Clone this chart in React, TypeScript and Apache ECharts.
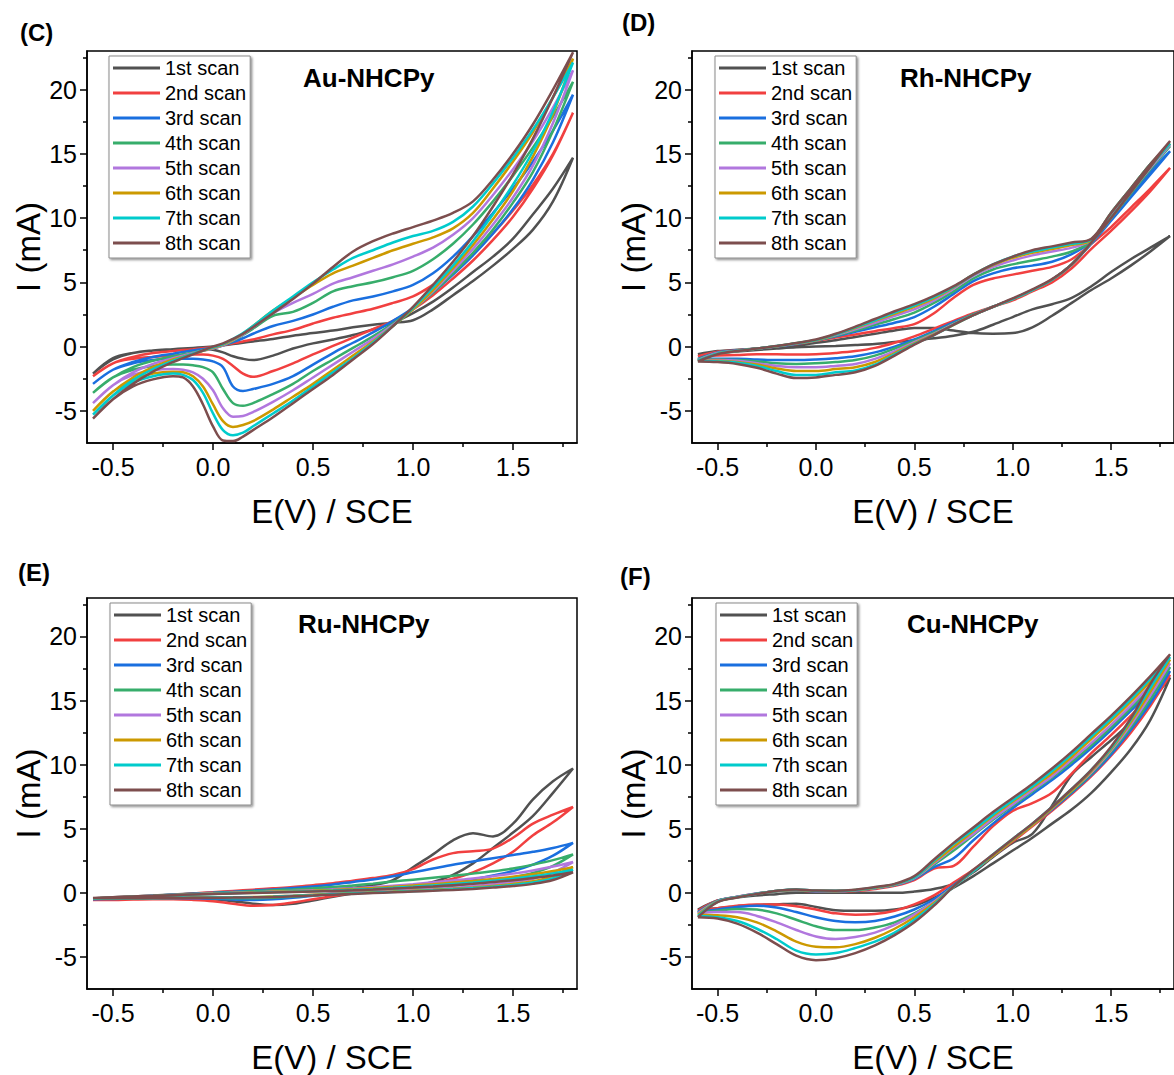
import React, { useEffect, useRef } from "react";
import * as echarts from "echarts";

const FONT = "'Liberation Sans', Arial, Helvetica, sans-serif";

const SCANS = ["1st scan", "2nd scan", "3rd scan", "4th scan", "5th scan", "6th scan", "7th scan", "8th scan"];
const COLORS = ["#515151", "#F14040", "#1A6FDF", "#37AD6B", "#B177DE", "#CC9900", "#00CBCC", "#7D4E4E"];

const X_TICKS = [-0.5, 0, 0.5, 1, 1.5];
const X_MINOR = [-0.25, 0.25, 0.75, 1.25, 1.75];
const Y_TICKS = [-5, 0, 5, 10, 15, 20];
const Y_MINOR = [-2.5, 2.5, 7.5, 12.5, 17.5, 22.5];

const PANEL_LABELS = ["(C)", "(D)", "(E)", "(F)"];
const PANEL_NAMES = ["Au-NHCPy", "Rh-NHCPy", "Ru-NHCPy", "Cu-NHCPy"];

// ---------- Au-NHCPy (C) ----------
const AU_E = [-0.6, -0.5, -0.4, -0.3, -0.2, -0.15, -0.1, -0.05, 0, 0.05, 0.1, 0.15, 0.2, 0.3, 0.4, 0.5, 0.6, 0.7, 0.8, 0.9, 1.0, 1.1, 1.2, 1.3, 1.4, 1.5, 1.6, 1.7, 1.8];
const AU_FWD = [
  [-2.1, -1.0, -0.5, -0.3, -0.2, -0.15, -0.1, -0.05, 0.0, 0.1, 0.2, 0.3, 0.4, 0.6, 0.85, 1.05, 1.25, 1.5, 1.7, 1.85, 2.05, 2.9, 4.0, 5.1, 6.3, 7.6, 9.1, 11.3, 14.7],
  [-2.3, -1.3, -0.8, -0.5, -0.35, -0.27, -0.2, -0.12, -0.05, 0.1, 0.25, 0.4, 0.55, 0.95, 1.3, 1.8, 2.25, 2.6, 2.95, 3.4, 3.9, 4.8, 5.9, 7.2, 8.8, 10.6, 12.6, 15.0, 18.2],
  [-2.9, -1.8, -1.2, -0.8, -0.55, -0.42, -0.3, -0.2, -0.1, 0.1, 0.35, 0.65, 1.0, 1.6, 2.0, 2.5, 3.1, 3.6, 3.9, 4.3, 4.8, 5.7, 7.0, 8.6, 10.4, 12.3, 14.4, 16.8, 19.6],
  [-3.6, -2.4, -1.6, -1.1, -0.75, -0.6, -0.45, -0.3, -0.15, 0.1, 0.45, 0.9, 1.4, 2.4, 2.7, 3.4, 4.3, 4.7, 5.0, 5.4, 5.9, 6.8, 8.0, 9.5, 11.3, 13.3, 15.5, 17.9, 20.6],
  [-4.4, -3.0, -2.0, -1.35, -0.9, -0.7, -0.5, -0.32, -0.15, 0.1, 0.5, 0.95, 1.5, 2.6, 3.4, 4.1, 4.9, 5.4, 5.9, 6.4, 7.0, 7.7, 8.7, 10.0, 11.8, 13.8, 16.0, 18.6, 21.5],
  [-5.0, -3.5, -2.4, -1.6, -1.0, -0.78, -0.55, -0.32, -0.1, 0.15, 0.55, 1.0, 1.6, 2.8, 3.8, 4.8, 5.7, 6.3, 6.9, 7.5, 8.0, 8.5, 9.2, 10.4, 12.3, 14.4, 16.7, 19.4, 22.4],
  [-5.3, -3.8, -2.6, -1.75, -1.1, -0.82, -0.55, -0.3, -0.05, 0.2, 0.6, 1.05, 1.6, 2.8, 3.9, 5.0, 6.0, 6.9, 7.5, 8.1, 8.6, 9.0, 9.7, 10.9, 12.7, 14.7, 16.9, 19.4, 22.1],
  [-5.6, -4.1, -2.9, -1.95, -1.2, -0.9, -0.6, -0.3, 0.0, 0.25, 0.6, 1.0, 1.5, 2.6, 3.7, 4.9, 6.2, 7.4, 8.2, 8.8, 9.3, 9.8, 10.4, 11.3, 13.0, 15.0, 17.3, 20.0, 22.9],
];
const AU_REV = [
  [-2.1, -0.9, -0.5, -0.3, -0.25, -0.22, -0.2, -0.2, -0.25, -0.45, -0.75, -0.95, -1.05, -0.7, -0.15, 0.25, 0.55, 0.9, 1.35, 1.85, 2.6, 3.5, 4.6, 5.8, 7.0, 8.4, 10.3, 12.3, 14.7],
  [-2.3, -1.3, -0.95, -0.8, -0.7, -0.65, -0.62, -0.62, -0.7, -0.95, -1.5, -2.1, -2.35, -1.9, -1.3, -0.6, 0.05, 0.7, 1.35, 2.0, 2.9, 4.0, 5.3, 6.7, 8.3, 10.1, 12.3, 14.9, 18.2],
  [-2.9, -1.8, -1.3, -1.05, -0.95, -0.95, -0.95, -1.0, -1.15, -1.6, -3.1, -3.45, -3.3, -2.9, -2.3, -1.4, -0.5, 0.3, 1.1, 2.0, 3.0, 4.2, 5.6, 7.1, 8.8, 10.7, 13.0, 15.9, 19.6],
  [-3.6, -2.4, -1.8, -1.5, -1.4, -1.4, -1.45, -1.6, -2.0, -3.3, -4.4, -4.6, -4.4, -3.7, -2.9, -1.9, -1.0, -0.1, 0.8, 1.8, 2.9, 4.2, 5.7, 7.3, 9.1, 11.2, 13.6, 16.8, 20.6],
  [-4.4, -3.0, -2.2, -1.85, -1.75, -1.8, -2.0, -2.5, -3.4, -4.8, -5.45, -5.4, -5.1, -4.3, -3.4, -2.4, -1.4, -0.4, 0.6, 1.7, 2.9, 4.3, 5.9, 7.6, 9.5, 11.6, 14.1, 17.4, 21.5],
  [-5.0, -3.5, -2.6, -2.1, -1.95, -2.0, -2.3, -3.1, -4.5, -5.8, -6.25, -6.1, -5.8, -4.9, -3.9, -2.9, -1.8, -0.7, 0.4, 1.6, 2.9, 4.4, 6.1, 7.9, 9.9, 12.1, 14.8, 18.1, 22.4],
  [-5.3, -3.8, -2.8, -2.3, -2.1, -2.2, -2.6, -3.6, -5.2, -6.5, -6.9, -6.7, -6.2, -5.2, -4.2, -3.1, -2.0, -0.9, 0.3, 1.6, 3.0, 4.6, 6.3, 8.2, 10.3, 12.6, 15.2, 18.3, 22.1],
  [-5.6, -4.1, -3.1, -2.55, -2.3, -2.4, -3.1, -4.5, -6.2, -7.3, -7.35, -7.0, -6.5, -5.5, -4.4, -3.3, -2.2, -1.0, 0.2, 1.6, 3.1, 4.8, 6.6, 8.6, 10.9, 13.4, 16.2, 19.4, 22.9],
];

// ---------- Rh-NHCPy (D) ----------
const RH_E = [-0.6, -0.5, -0.4, -0.3, -0.2, -0.1, 0, 0.1, 0.2, 0.3, 0.4, 0.5, 0.6, 0.7, 0.8, 0.9, 1.0, 1.1, 1.2, 1.3, 1.4, 1.5, 1.6, 1.7, 1.8];
const RH_FWD = [
  [-0.6, -0.35, -0.25, -0.15, -0.05, 0.1, 0.3, 0.5, 0.75, 1.0, 1.25, 1.45, 1.45, 1.25, 1.05, 1.0, 1.05, 1.5, 2.4, 3.4, 4.4, 5.3, 6.3, 7.4, 8.6],
  [-0.75, -0.4, -0.28, -0.15, 0.0, 0.2, 0.45, 0.7, 0.95, 1.2, 1.45, 1.75, 2.6, 3.8, 4.8, 5.3, 5.6, 5.9, 6.2, 6.8, 8.0, 9.3, 10.8, 12.3, 13.9],
  [-0.95, -0.45, -0.3, -0.15, 0.0, 0.22, 0.48, 0.8, 1.15, 1.5, 1.85, 2.3, 3.1, 4.1, 5.1, 5.7, 6.1, 6.3, 6.6, 7.2, 8.2, 10.0, 11.8, 13.6, 15.2],
  [-1.0, -0.5, -0.32, -0.15, 0.02, 0.24, 0.5, 0.85, 1.25, 1.7, 2.15, 2.65, 3.4, 4.3, 5.3, 6.0, 6.4, 6.7, 7.0, 7.4, 8.2, 10.2, 12.1, 14.0, 15.6],
  [-1.05, -0.5, -0.33, -0.15, 0.03, 0.25, 0.5, 0.9, 1.35, 1.85, 2.4, 2.9, 3.6, 4.5, 5.5, 6.2, 6.7, 7.1, 7.4, 7.7, 8.3, 10.3, 12.2, 14.1, 15.7],
  [-1.1, -0.55, -0.35, -0.15, 0.03, 0.26, 0.5, 0.95, 1.45, 2.0, 2.55, 3.1, 3.75, 4.6, 5.6, 6.35, 6.9, 7.3, 7.6, 7.9, 8.3, 10.4, 12.3, 14.2, 15.8],
  [-1.1, -0.55, -0.35, -0.15, 0.04, 0.27, 0.52, 0.95, 1.5, 2.05, 2.65, 3.2, 3.85, 4.65, 5.6, 6.4, 7.0, 7.4, 7.7, 8.0, 8.35, 10.4, 12.3, 14.2, 15.8],
  [-1.15, -0.6, -0.35, -0.15, 0.05, 0.28, 0.55, 1.0, 1.55, 2.15, 2.75, 3.3, 3.95, 4.7, 5.6, 6.4, 7.0, 7.5, 7.8, 8.1, 8.4, 10.4, 12.3, 14.2, 16.0],
];
const RH_REV = [
  [-0.6, -0.5, -0.38, -0.26, -0.15, -0.05, 0.0, 0.05, 0.12, 0.2, 0.35, 0.5, 0.65, 0.85, 1.15, 1.7, 2.3, 2.9, 3.3, 3.8, 4.7, 5.8, 6.8, 7.7, 8.6],
  [-0.75, -0.7, -0.65, -0.6, -0.6, -0.62, -0.6, -0.5, -0.35, -0.1, 0.3, 0.8, 1.4, 2.0, 2.6, 3.1, 3.6, 4.3, 5.0, 6.1, 7.6, 9.0, 10.5, 12.1, 13.9],
  [-0.95, -0.95, -0.95, -1.0, -1.05, -1.05, -1.0, -0.9, -0.75, -0.45, 0.0, 0.55, 1.2, 1.9, 2.5, 3.1, 3.7, 4.4, 5.2, 6.4, 8.0, 9.8, 11.6, 13.4, 15.2],
  [-1.0, -1.0, -1.05, -1.15, -1.3, -1.35, -1.3, -1.2, -1.05, -0.7, -0.15, 0.45, 1.1, 1.8, 2.5, 3.1, 3.7, 4.4, 5.2, 6.4, 8.1, 10.0, 11.9, 13.8, 15.6],
  [-1.05, -1.05, -1.1, -1.3, -1.5, -1.6, -1.6, -1.5, -1.35, -0.95, -0.35, 0.35, 1.0, 1.75, 2.45, 3.1, 3.7, 4.4, 5.2, 6.4, 8.1, 10.0, 12.0, 13.9, 15.7],
  [-1.1, -1.1, -1.2, -1.4, -1.7, -1.9, -1.9, -1.75, -1.6, -1.2, -0.5, 0.25, 0.95, 1.7, 2.45, 3.1, 3.7, 4.4, 5.2, 6.4, 8.1, 10.0, 12.0, 14.0, 15.8],
  [-1.1, -1.15, -1.25, -1.5, -1.9, -2.2, -2.2, -2.0, -1.85, -1.4, -0.6, 0.2, 0.9, 1.7, 2.45, 3.1, 3.7, 4.4, 5.2, 6.4, 8.1, 10.0, 12.0, 14.0, 15.8],
  [-1.15, -1.2, -1.35, -1.65, -2.1, -2.45, -2.4, -2.2, -2.0, -1.5, -0.7, 0.15, 0.9, 1.7, 2.45, 3.1, 3.75, 4.45, 5.25, 6.4, 8.1, 10.0, 12.0, 14.0, 16.0],
];

// ---------- Ru-NHCPy (E) ----------
const RU_E = [-0.6, -0.5, -0.4, -0.3, -0.2, -0.1, 0, 0.1, 0.2, 0.3, 0.4, 0.5, 0.6, 0.7, 0.8, 0.9, 1.0, 1.1, 1.2, 1.3, 1.4, 1.5, 1.6, 1.7, 1.8];
const RU_FWD = [
  [-0.45, -0.35, -0.28, -0.2, -0.12, -0.05, 0.0, 0.05, 0.1, 0.15, 0.2, 0.25, 0.3, 0.4, 0.6, 1.0, 2.0, 3.0, 4.1, 4.65, 4.4, 5.4, 7.3, 8.7, 9.7],
  [-0.55, -0.45, -0.35, -0.25, -0.15, -0.05, 0.05, 0.15, 0.25, 0.35, 0.45, 0.6, 0.75, 0.95, 1.15, 1.4, 1.85, 2.6, 3.1, 3.25, 3.45, 4.3, 5.4, 6.1, 6.7],
  [-0.5, -0.4, -0.32, -0.24, -0.15, -0.07, 0.0, 0.08, 0.17, 0.27, 0.38, 0.5, 0.65, 0.85, 1.05, 1.3, 1.6, 1.9, 2.2, 2.45, 2.7, 2.95, 3.2, 3.5, 3.9],
  [-0.45, -0.38, -0.3, -0.22, -0.15, -0.08, -0.02, 0.05, 0.12, 0.2, 0.27, 0.35, 0.45, 0.58, 0.72, 0.88, 1.03, 1.18, 1.33, 1.5, 1.68, 1.9, 2.2, 2.55, 3.0],
  [-0.45, -0.38, -0.3, -0.23, -0.16, -0.1, -0.05, 0.0, 0.05, 0.1, 0.15, 0.2, 0.28, 0.36, 0.45, 0.56, 0.68, 0.82, 0.97, 1.12, 1.3, 1.5, 1.75, 2.05, 2.4],
  [-0.45, -0.38, -0.3, -0.24, -0.18, -0.12, -0.07, -0.02, 0.03, 0.08, 0.12, 0.17, 0.23, 0.3, 0.38, 0.47, 0.57, 0.68, 0.8, 0.93, 1.08, 1.25, 1.45, 1.7, 2.0],
  [-0.45, -0.38, -0.31, -0.25, -0.19, -0.13, -0.08, -0.03, 0.01, 0.05, 0.09, 0.13, 0.18, 0.24, 0.31, 0.39, 0.48, 0.58, 0.69, 0.81, 0.95, 1.1, 1.3, 1.52, 1.8],
  [-0.4, -0.34, -0.28, -0.23, -0.18, -0.13, -0.09, -0.05, -0.01, 0.03, 0.07, 0.11, 0.15, 0.2, 0.26, 0.33, 0.41, 0.5, 0.6, 0.71, 0.84, 0.98, 1.15, 1.35, 1.6],
];
const RU_REV = [
  [-0.45, -0.45, -0.42, -0.4, -0.4, -0.42, -0.5, -0.65, -0.85, -0.95, -0.85, -0.6, -0.3, -0.05, 0.15, 0.3, 0.5, 0.85, 1.4, 2.3, 3.5, 4.7, 6.0, 7.8, 9.7],
  [-0.55, -0.55, -0.52, -0.5, -0.5, -0.55, -0.65, -0.85, -1.0, -0.95, -0.75, -0.5, -0.25, 0.0, 0.2, 0.35, 0.5, 0.75, 1.1, 1.6, 2.3, 3.2, 4.5, 5.5, 6.7],
  [-0.5, -0.48, -0.45, -0.42, -0.4, -0.42, -0.45, -0.52, -0.55, -0.5, -0.38, -0.22, -0.05, 0.1, 0.2, 0.3, 0.42, 0.58, 0.8, 1.05, 1.35, 1.7, 2.2, 2.9, 3.9],
  [-0.45, -0.45, -0.42, -0.4, -0.38, -0.38, -0.4, -0.42, -0.42, -0.38, -0.3, -0.2, -0.08, 0.03, 0.12, 0.2, 0.3, 0.42, 0.55, 0.72, 0.93, 1.2, 1.55, 2.1, 3.0],
  [-0.45, -0.45, -0.42, -0.4, -0.38, -0.36, -0.36, -0.36, -0.35, -0.3, -0.22, -0.14, -0.06, 0.02, 0.08, 0.15, 0.22, 0.3, 0.4, 0.52, 0.67, 0.85, 1.1, 1.6, 2.4],
  [-0.45, -0.45, -0.43, -0.41, -0.39, -0.37, -0.36, -0.35, -0.33, -0.28, -0.22, -0.15, -0.08, -0.02, 0.04, 0.1, 0.17, 0.24, 0.32, 0.42, 0.54, 0.7, 0.9, 1.3, 2.0],
  [-0.45, -0.45, -0.43, -0.41, -0.4, -0.38, -0.37, -0.36, -0.34, -0.3, -0.24, -0.18, -0.11, -0.05, 0.01, 0.07, 0.13, 0.2, 0.28, 0.37, 0.48, 0.62, 0.8, 1.15, 1.8],
  [-0.4, -0.42, -0.42, -0.41, -0.4, -0.39, -0.38, -0.37, -0.35, -0.32, -0.27, -0.21, -0.14, -0.08, -0.02, 0.04, 0.1, 0.16, 0.23, 0.31, 0.41, 0.53, 0.7, 1.0, 1.6],
];

// ---------- Cu-NHCPy (F) ----------
const CU_E = [-0.6, -0.5, -0.4, -0.3, -0.2, -0.1, 0, 0.1, 0.2, 0.3, 0.4, 0.5, 0.6, 0.7, 0.8, 0.9, 1.0, 1.1, 1.2, 1.3, 1.4, 1.5, 1.6, 1.7, 1.8];
const CU_FWD = [
  [-1.3, -0.6, -0.35, -0.2, -0.1, 0.0, 0.0, 0.0, 0.0, 0.0, 0.0, 0.1, 0.3, 0.7, 1.6, 2.8, 3.9, 4.6, 6.8, 9.2, 10.6, 11.9, 13.3, 14.9, 16.8],
  [-1.4, -0.6, -0.3, -0.05, 0.15, 0.2, 0.1, 0.1, 0.15, 0.3, 0.55, 1.0, 1.9, 2.1, 3.6, 5.2, 6.4, 7.0, 7.8, 9.3, 10.9, 12.3, 13.8, 15.4, 17.0],
  [-1.5, -0.62, -0.3, -0.05, 0.15, 0.22, 0.12, 0.12, 0.18, 0.35, 0.6, 1.1, 2.0, 2.7, 4.1, 5.4, 6.6, 7.7, 8.8, 10.0, 11.3, 12.7, 14.2, 15.7, 17.3],
  [-1.55, -0.64, -0.32, -0.06, 0.15, 0.23, 0.14, 0.13, 0.2, 0.37, 0.62, 1.15, 2.2, 3.3, 4.5, 5.7, 6.8, 7.9, 9.0, 10.2, 11.5, 12.9, 14.4, 16.0, 17.6],
  [-1.6, -0.66, -0.33, -0.07, 0.15, 0.24, 0.15, 0.14, 0.21, 0.38, 0.64, 1.15, 2.3, 3.5, 4.6, 5.8, 6.9, 8.0, 9.1, 10.4, 11.7, 13.1, 14.6, 16.2, 17.9],
  [-1.7, -0.68, -0.34, -0.08, 0.15, 0.25, 0.16, 0.15, 0.22, 0.4, 0.66, 1.2, 2.4, 3.6, 4.8, 6.0, 7.1, 8.2, 9.3, 10.6, 12.0, 13.4, 14.9, 16.5, 18.2],
  [-1.8, -0.7, -0.35, -0.08, 0.15, 0.26, 0.17, 0.16, 0.23, 0.42, 0.68, 1.2, 2.5, 3.8, 4.9, 6.1, 7.2, 8.3, 9.5, 10.8, 12.2, 13.6, 15.1, 16.7, 18.4],
  [-1.9, -0.72, -0.36, -0.09, 0.15, 0.27, 0.18, 0.17, 0.25, 0.45, 0.7, 1.3, 2.6, 3.9, 5.1, 6.3, 7.4, 8.5, 9.7, 11.0, 12.4, 13.8, 15.3, 16.9, 18.6],
];
const CU_REV = [
  [-1.3, -1.2, -1.05, -0.95, -0.9, -0.85, -1.1, -1.35, -1.4, -1.4, -1.3, -1.0, -0.4, 0.4, 1.3, 2.3, 3.3, 4.3, 5.4, 6.5, 7.8, 9.4, 11.2, 13.5, 16.8],
  [-1.4, -1.2, -1.0, -0.9, -0.9, -1.05, -1.3, -1.6, -1.7, -1.65, -1.4, -0.9, -0.2, 0.8, 1.8, 2.9, 4.0, 5.2, 6.4, 7.7, 9.1, 10.7, 12.5, 14.6, 17.0],
  [-1.5, -1.3, -1.1, -1.0, -1.15, -1.5, -1.9, -2.2, -2.3, -2.2, -1.85, -1.3, -0.5, 0.6, 1.7, 2.9, 4.1, 5.3, 6.5, 7.8, 9.2, 10.8, 12.7, 14.8, 17.3],
  [-1.55, -1.4, -1.25, -1.3, -1.6, -2.1, -2.6, -2.9, -2.9, -2.7, -2.3, -1.6, -0.7, 0.5, 1.7, 2.9, 4.1, 5.3, 6.6, 7.9, 9.3, 11.0, 12.9, 15.1, 17.6],
  [-1.6, -1.5, -1.5, -1.8, -2.3, -2.9, -3.4, -3.6, -3.45, -3.1, -2.5, -1.7, -0.7, 0.5, 1.7, 2.9, 4.1, 5.3, 6.6, 8.0, 9.4, 11.1, 13.1, 15.4, 17.9],
  [-1.7, -1.75, -1.9, -2.3, -3.0, -3.8, -4.2, -4.25, -4.0, -3.5, -2.8, -1.9, -0.8, 0.5, 1.7, 2.9, 4.1, 5.3, 6.6, 8.0, 9.5, 11.2, 13.3, 15.7, 18.2],
  [-1.8, -1.9, -2.2, -2.8, -3.6, -4.5, -4.8, -4.7, -4.3, -3.8, -3.1, -2.1, -0.9, 0.5, 1.7, 3.0, 4.2, 5.4, 6.7, 8.1, 9.6, 11.3, 13.5, 16.0, 18.4],
  [-1.9, -2.0, -2.4, -3.1, -4.0, -4.9, -5.25, -5.1, -4.7, -4.1, -3.3, -2.3, -1.0, 0.5, 1.8, 3.0, 4.2, 5.4, 6.7, 8.1, 9.6, 11.4, 13.6, 16.3, 18.6],
];

const PANEL_DATA = [
  { E: AU_E, fwd: AU_FWD, rev: AU_REV },
  { E: RH_E, fwd: RH_FWD, rev: RH_REV },
  { E: RU_E, fwd: RU_FWD, rev: RU_REV },
  { E: CU_E, fwd: CU_FWD, rev: CU_REV },
];

// layout (pixels)
const LAYOUT = [
  { left: 87, top: 51, label: [20, 20], title: [303, 65], legend: [109, 56] },
  { left: 692, top: 51, label: [622, 10], title: [900, 65], legend: [715, 56] },
  { left: 87, top: 598, label: [18, 560], title: [298, 611], legend: [110, 603] },
  { left: 692, top: 598, label: [620, 564], title: [907, 611], legend: [716, 603] },
];
const GW = 490;
const GH = 392;
const XMIN = -0.63;
const XMAX = 1.82;
const YMIN = -7.5;
const YMAX = 23;

function buildOption() {
  const axisLineStyle = { color: "#000", width: 1.5 };
  const grid = LAYOUT.map((l) => ({
    left: l.left,
    top: l.top,
    width: GW,
    height: GH,
    show: true,
    borderColor: "#000",
    borderWidth: 1.5,
    backgroundColor: "transparent",
  }));
  const xAxis: any[] = [];
  const yAxis: any[] = [];
  LAYOUT.forEach((_, i) => {
    xAxis.push({
      type: "value",
      gridIndex: i,
      min: XMIN,
      max: XMAX,
      position: "bottom",
      axisLine: { onZero: false, lineStyle: axisLineStyle },
      axisTick: { customValues: X_TICKS, length: 7, lineStyle: axisLineStyle },
      axisLabel: {
        customValues: X_TICKS,
        formatter: (v: number) => v.toFixed(1),
        fontSize: 25,
        color: "#000",
        margin: 11,
        fontFamily: FONT,
      },
      splitLine: { show: false },
      name: "E(V) / SCE",
      nameLocation: "middle",
      nameGap: 52,
      nameTextStyle: { fontSize: 33, color: "#000", fontFamily: FONT },
    });
    xAxis.push({
      type: "value",
      gridIndex: i,
      min: XMIN,
      max: XMAX,
      position: "bottom",
      axisLine: { show: false, onZero: false },
      axisTick: { customValues: X_MINOR, length: 4, lineStyle: axisLineStyle },
      axisLabel: { show: false },
      splitLine: { show: false },
    });
    yAxis.push({
      type: "value",
      gridIndex: i,
      min: YMIN,
      max: YMAX,
      position: "left",
      axisLine: { onZero: false, lineStyle: axisLineStyle },
      axisTick: { customValues: Y_TICKS, length: 7, lineStyle: axisLineStyle },
      axisLabel: {
        customValues: Y_TICKS,
        formatter: (v: number) => String(v),
        fontSize: 25,
        color: "#000",
        margin: 10,
        fontFamily: FONT,
      },
      splitLine: { show: false },
      name: "I (mA)",
      nameLocation: "middle",
      nameGap: 42,
      nameTextStyle: { fontSize: 33, color: "#000", fontFamily: FONT },
    });
    yAxis.push({
      type: "value",
      gridIndex: i,
      min: YMIN,
      max: YMAX,
      position: "left",
      axisLine: { show: false, onZero: false },
      axisTick: { customValues: Y_MINOR, length: 4, lineStyle: axisLineStyle },
      axisLabel: { show: false },
      splitLine: { show: false },
    });
  });

  const title: any[] = [];
  LAYOUT.forEach((l, i) => {
    title.push({
      text: PANEL_LABELS[i],
      left: l.label[0],
      top: l.label[1],
      padding: 0,
      textStyle: { fontSize: 24, fontWeight: "bold", color: "#000", fontFamily: FONT },
    });
    title.push({
      text: PANEL_NAMES[i],
      left: l.title[0],
      top: l.title[1],
      padding: 0,
      textStyle: { fontSize: 26, fontWeight: "bold", color: "#000", fontFamily: FONT },
    });
  });

  const legend = LAYOUT.map((l) => ({
    left: l.legend[0],
    top: l.legend[1],
    orient: "vertical",
    data: SCANS,
    icon: "rect",
    itemWidth: 47,
    itemHeight: 3,
    itemGap: 5,
    padding: [2, 4, 5, 4],
    borderColor: "#8a8a8a",
    borderWidth: 1,
    backgroundColor: "#fff",
    shadowColor: "rgba(0,0,0,0.45)",
    shadowBlur: 2,
    shadowOffsetX: 1.5,
    shadowOffsetY: 1.5,
    selectedMode: false,
    textStyle: { fontSize: 20, lineHeight: 20, color: "#000", fontFamily: FONT },
  }));

  const series: any[] = [];
  PANEL_DATA.forEach((p, i) => {
    SCANS.forEach((name, k) => {
      const fwd = p.E.map((e, j) => [e, p.fwd[k][j]]);
      const rev = p.E.map((e, j) => [e, p.rev[k][j]]).reverse();
      series.push({
        type: "line",
        name,
        xAxisIndex: 2 * i,
        yAxisIndex: 2 * i,
        data: fwd.concat(rev),
        showSymbol: false,
        symbol: "none",
        smooth: 0.35,
        clip: true,
        silent: true,
        lineStyle: { width: 2.5, color: COLORS[k] },
        itemStyle: { color: COLORS[k] },
        emphasis: { disabled: true },
      });
    });
  });

  return {
    animation: false,
    backgroundColor: "#fff",
    textStyle: { fontFamily: FONT },
    title,
    legend,
    grid,
    xAxis,
    yAxis,
    series,
  };
}

export default function App() {
  const ref = useRef<HTMLDivElement>(null);
  useEffect(() => {
    if (!ref.current) return;
    const chart = echarts.init(ref.current, null, { renderer: "svg" });
    chart.setOption(buildOption() as any);
    return () => chart.dispose();
  }, []);
  return (
    <div
      style={{
        position: "fixed",
        left: 0,
        top: 0,
        width: 1174,
        height: 1075,
        overflow: "hidden",
        background: "#fff",
      }}
    >
      <div ref={ref} style={{ width: 1174, height: 1075 }} />
    </div>
  );
}
